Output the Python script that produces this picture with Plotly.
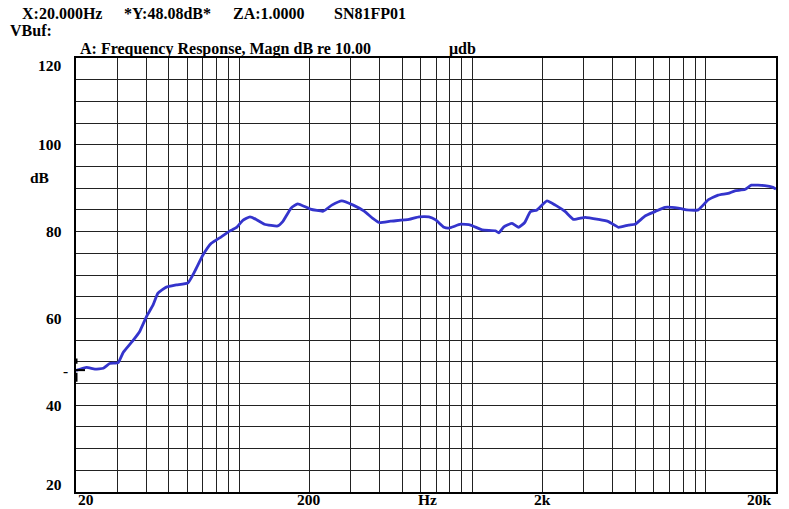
import math
import plotly.graph_objects as go

# ---- data ----
freq_hz = [20, 22.2, 24.1, 26.2, 27.9, 30.3, 31.9, 35.2, 37.5, 40.1, 42.8, 44.9, 48.8,
           53.9, 60.4, 64.5, 70.0, 76.0, 83.9, 91.0, 97.2, 103.8, 111.4, 118.4, 128.4,
           146.4, 153.8, 167, 178.3, 202, 229.5, 249.7, 275.4, 308.4, 343.6, 372.8,
           398, 446, 535, 590, 651, 696, 755, 793, 890, 982, 1101, 1256, 1297, 1363,
           1478, 1579, 1675, 1772, 1891, 2087, 2267, 2500, 2714, 3045, 3470, 3830,
           4225, 4663, 4980, 5495, 6061, 6690, 7626, 8274, 9284, 10244, 11302, 12472,
           13320, 14698, 15688, 17892, 19418, 20000]
magn_db = [48.0, 48.7, 48.3, 48.5, 49.6, 49.8, 52.2, 55.0, 57.0, 60.4, 63.1, 65.8, 67.2,
           67.7, 68.2, 70.8, 74.6, 77.3, 78.8, 80.1, 80.9, 82.6, 83.4, 82.8, 81.7,
           81.3, 82.3, 85.4, 86.4, 85.2, 84.7, 86.1, 87.1, 86.1, 84.7, 83.1,
           82.1, 82.4, 82.8, 83.4, 83.4, 82.7, 81.0, 80.8, 81.7, 81.5, 80.4, 80.2, 79.7, 81.1,
           81.9, 81.0, 82.1, 84.6, 85.0, 87.1, 86.1, 84.6, 82.8, 83.3, 82.8, 82.3,
           81.0, 81.5, 81.7, 83.6, 84.6, 85.6, 85.4, 85.0, 85.0, 87.3, 88.4, 88.8,
           89.4, 89.7, 90.7, 90.6, 90.2, 89.8]

x_grid = [20, 30, 40, 50, 60, 70, 80, 90, 100, 200, 300, 400, 500, 600, 700, 800, 900,
          1000, 2000, 3000, 4000, 5000, 6000, 7000, 8000, 9000, 10000, 20000]
y_grid = list(range(20, 125, 5))
x_tick_vals = [20, 200, 2000, 20000]
x_tick_text = ["20", "200", "2k", "20k"]
y_tick_vals = [20, 40, 60, 80, 100, 120]
y_tick_text = ["20", "40", "60", "80", "100", "120"]

cursor_x = 20.0
cursor_y = 48.08
header_items = ["X:20.000Hz", "*Y:48.08dB*", "ZA:1.0000", "SN81FP01"]
title_text = "A: Frequency Response, Magn dB re 10.00"

# ---- layout geometry ----
W, H = 789, 509
L, R, T, B = 76, 11, 58, 17
PW, PH = W - L - R, H - T - B


def px(xp):
    return (xp - L) / PW


def py(yp):
    return (H - B - yp) / PH


FONT = dict(family="Liberation Serif", size=16, color="black", weight="bold")
TFONT = dict(family="Liberation Serif", size=15.5, color="black", weight="bold")

fig = go.Figure()
fig.add_trace(go.Scatter(x=freq_hz, y=magn_db, mode="lines",
                         line=dict(color="#3434cc", width=2.8, shape="spline", smoothing=0.4),
                         hoverinfo="x+y", showlegend=False))

fig.update_layout(
    width=W, height=H,
    margin=dict(l=L, r=R, t=T, b=B, pad=0),
    paper_bgcolor="white", plot_bgcolor="white",
    xaxis=dict(type="log", range=[math.log10(20), math.log10(20000)],
               tickvals=x_grid, showticklabels=False, ticks="",
               showgrid=True, gridcolor="#222", gridwidth=1,
               showline=True, linecolor="black", linewidth=1.5, mirror=True,
               zeroline=False),
    yaxis=dict(range=[20, 120], tickvals=y_grid, showticklabels=False, ticks="",
               showgrid=True, gridcolor="#222", gridwidth=1,
               showline=True, linecolor="black", linewidth=1.5, mirror=True,
               zeroline=False),
    font=FONT,
)

ann = []
# x tick labels
for v, t in zip(x_tick_vals, x_tick_text):
    anchor = "center"
    xs = 0
    if v == x_tick_vals[0]:
        anchor = "left"
    elif v == x_tick_vals[-1]:
        anchor = "right"
        xs = -2
    ann.append(dict(x=math.log10(v), y=py(500), xref="x", yref="paper", text=t,
                    showarrow=False, xanchor=anchor, yanchor="middle", xshift=xs, font=TFONT))
ann.append(dict(x=px(429), y=py(500), xref="paper", yref="paper", text="Hz",
                showarrow=False, xanchor="center", yanchor="middle", font=TFONT))
# y tick labels
for v, t in zip(y_tick_vals, y_tick_text):
    ys = 0
    if v == y_tick_vals[-1]:
        ys = -7
    elif v == y_tick_vals[0]:
        ys = 8
    ann.append(dict(x=px(64), y=v, xref="paper", yref="y", text=t, showarrow=False,
                    xanchor="right", yanchor="middle", yshift=ys, font=TFONT))
ann.append(dict(x=px(28), y=py(177), xref="paper", yref="paper", text="dB",
                showarrow=False, xanchor="left", yanchor="middle", font=TFONT))
# header
for xp, t in zip([20, 122, 231, 333], header_items):
    ann.append(dict(x=px(xp), y=py(13), xref="paper", yref="paper", text=t,
                    showarrow=False, xanchor="left", yanchor="middle", font=FONT))
ann.append(dict(x=px(8), y=py(31), xref="paper", yref="paper", text="VBuf:",
                showarrow=False, xanchor="left", yanchor="middle", font=FONT))
ann.append(dict(x=px(78), y=py(49), xref="paper", yref="paper", text=title_text,
                showarrow=False, xanchor="left", yanchor="middle", font=FONT))
ann.append(dict(x=px(448), y=py(49), xref="paper", yref="paper", text="\u03bcdb",
                showarrow=False, xanchor="left", yanchor="middle", font=FONT))
# cursor marker
ann.append(dict(x=px(70), y=cursor_y, xref="paper", yref="y", text="-",
                showarrow=False, xanchor="right", yanchor="middle", font=TFONT))
fig.update_layout(annotations=ann)

# cursor bracket: short horizontal tick and dashed vertical on the left border
fig.add_shape(type="line", xref="paper", yref="y",
              x0=px(76), x1=px(85), y0=cursor_y, y1=cursor_y,
              line=dict(color="black", width=2))
fig.add_shape(type="line", xref="paper", yref="y",
              x0=px(76), x1=px(76), y0=cursor_y - 2.7, y1=cursor_y + 2.7,
              line=dict(color="black", width=3, dash="dash"))

fig.write_html("out.html", post_script="document.body.style.margin='0';",
               config={"displayModeBar": False})
